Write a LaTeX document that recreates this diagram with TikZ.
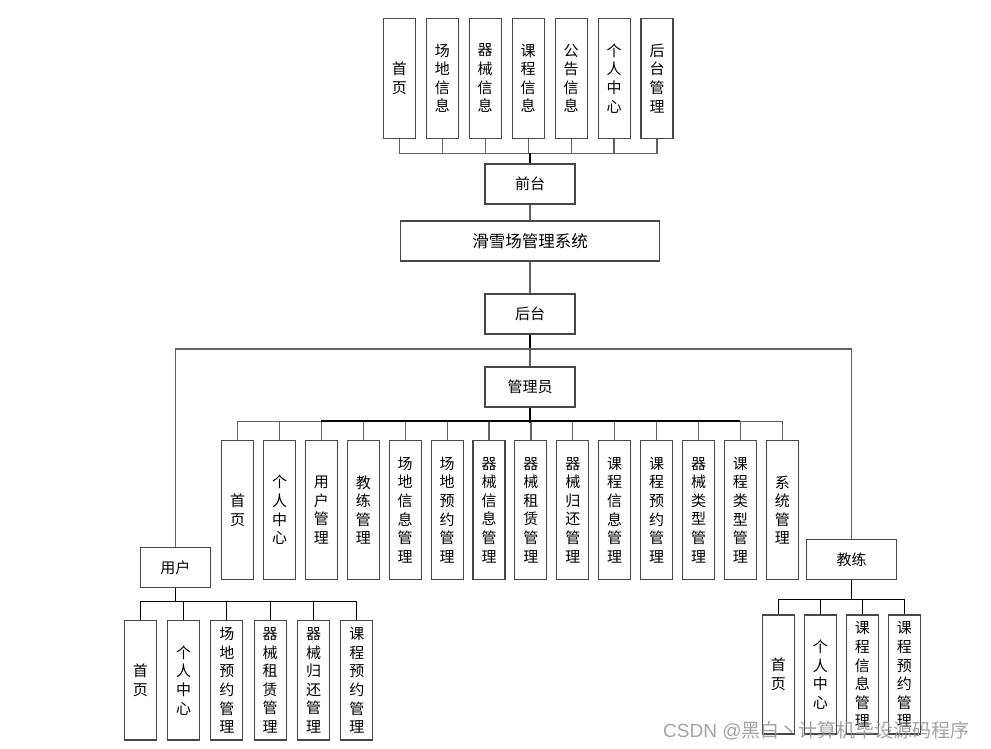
\documentclass[tikz,border=0pt]{standalone}
\usepackage{fontspec}
\setmainfont{Noto Sans CJK SC}
\newfontfamily\wmlat{Liberation Sans}
\tikzset{
  box/.style={draw=black!72, line width=1.1pt, fill=white, inner sep=0pt, align=center,
    font=\fontsize{15}{18.6}\selectfont},
  tall/.style={box, minimum width=32pt, minimum height=120pt},
  atall/.style={box, minimum width=32pt, minimum height=138.6pt},
  hbox/.style={box, minimum width=90pt, minimum height=40pt},
  conn/.style={draw=black!62, line width=1.2pt},
  trunk/.style={draw=black, line width=1.6pt},
  blk/.style={draw=black, line width=1.1pt},
}
\begin{document}
\begin{tikzpicture}[x=1pt,y=-1pt]
\useasboundingbox[fill=white] (0,0) rectangle (991,748);
% top row
\foreach \t [count=\i from 0] in {首\\页,场\\地\\信\\息,器\\械\\信\\息,课\\程\\信\\息,公\\告\\信\\息,个\\人\\中\\心,后\\台\\管\\理}{
  \node[tall] (t\i) at (399.3+42.95*\i,78.3) {\t};
}
\node[hbox] (qt) at (530,184) {前台};
\node[box, minimum width=258.6pt, minimum height=40pt, font=\fontsize{16.5}{18}\selectfont] (sys) at (530,241) {滑雪场管理系统};
\node[hbox] (ht) at (530,314) {后台};
\node[hbox] (gly) at (530,387) {管理员};
\node[box, minimum width=70pt, minimum height=40pt] (user) at (175.3,567.3) {用户};
\node[hbox] (coach) at (851.7,559.3) {教练};
% admin row
\foreach \t [count=\i from 0] in {首\\页,个\\人\\中\\心,用\\户\\管\\理,教\\练\\管\\理,场\\地\\信\\息\\管\\理,场\\地\\预\\约\\管\\理,器\\械\\信\\息\\管\\理,器\\械\\租\\赁\\管\\理,器\\械\\归\\还\\管\\理,课\\程\\信\\息\\管\\理,课\\程\\预\\约\\管\\理,器\\械\\类\\型\\管\\理,课\\程\\类\\型\\管\\理,系\\统\\管\\理}{
  \node[atall] (a\i) at (237.6+41.9*\i,510) {\t};
}
% user row
\foreach \t [count=\i from 0] in {首\\页,个\\人\\中\\心,场\\地\\预\\约\\管\\理,器\\械\\租\\赁\\管\\理,器\\械\\归\\还\\管\\理,课\\程\\预\\约\\管\\理}{
  \node[box, minimum width=32pt, minimum height=119.3pt] (u\i) at (140.3+43.3*\i,680.3) {\t};
}
% coach row
\foreach \t [count=\i from 0] in {首\\页,个\\人\\中\\心,课\\程\\信\\息\\管\\理,课\\程\\预\\约\\管\\理}{
  \node[box, minimum width=32pt, minimum height=119pt] (c\i) at (778.3+42*\i,674.5) {\t};
}
% connectors top
\foreach \i in {0,...,6}{
  \draw[conn] (t\i.south) -- ++(0,15) -| (qt.north);
}
\draw[trunk] (qt.north) -- ++(0,-10.7);
\draw[conn] (qt.south) -- (sys.north);
\draw[conn] (sys.south) -- (ht.north);
\coordinate (hb) at (530,349);
\draw[trunk] (ht.south) -- (hb);
\draw[conn] (hb) -- (gly.north);
\draw[conn] (user.north) |- (hb) -| (coach.north);
% admin connectors
\foreach \i in {0,...,13}{
  \draw[conn] (a\i.north) -- ++(0,-19) -| (gly.south);
}
\draw[trunk] (gly.south) -- ++(0,15);
\draw[draw=black, line width=1.4pt] ([yshift=19pt]a2.north) -- ([yshift=19pt]a12.north);
% user connectors
\foreach \i in {0,...,5}{
  \draw[blk] (u\i.north) -- ++(0,-18.4) -| (user.south);
}
% coach connectors
\foreach \i in {0,...,3}{
  \draw[blk] (c\i.north) -- ++(0,-14.7) -| (coach.south);
}
% watermark
\node[anchor=base west, inner sep=0pt, text=black!42, opacity=0.85, font=\fontsize{19}{20}\selectfont] (wm) at (663,737) {{\wmlat CSDN @}黑白丶计算机毕设源码程序};
\end{tikzpicture}
\end{document}
